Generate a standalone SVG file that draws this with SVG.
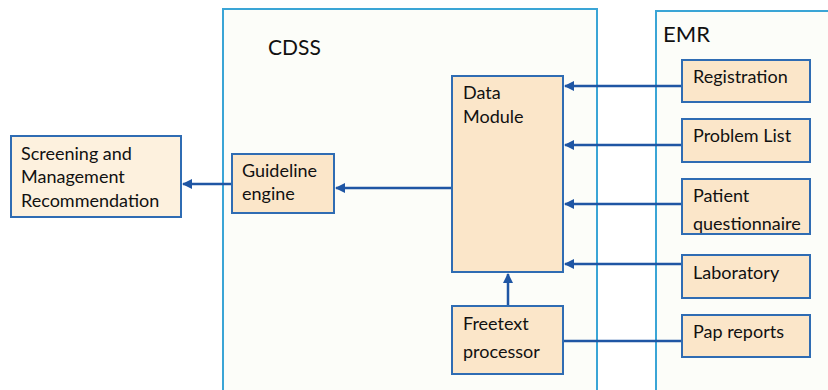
<svg xmlns="http://www.w3.org/2000/svg" width="828" height="390" viewBox="0 0 828 390">
  <defs>
    <style>
      .container { fill: #fcfdf9; stroke: #3aa5d6; stroke-width: 2; }
      .node { fill: #fbe6c9; stroke: #2f6cb3; stroke-width: 2; }
      .node-light { fill: #fdf1de; stroke: #2f6cb3; stroke-width: 2; }
      .label { font-family: Lato, "Open Sans", sans-serif; font-size: 18px; fill: #111; }
      .title { font-family: Lato, "Open Sans", sans-serif; font-size: 21px; fill: #111; }
      .link { stroke: #1f56a4; stroke-width: 2.5; fill: none; }
    </style>
    <marker id="arrow" viewBox="0 0 10 10" refX="9" refY="5" markerWidth="4" markerHeight="4" orient="auto" markerUnits="strokeWidth">
      <path d="M0,0 L10,5 L0,10 z" fill="#1f56a4"/>
    </marker>
  </defs>

  <rect width="828" height="390" fill="#ffffff"/>

  <!-- System containers -->
  <g id="cdss">
    <rect class="container" x="223" y="9" width="374" height="400"/>
    <text class="title" x="268" y="55">CDSS</text>
  </g>
  <g id="emr">
    <rect class="container" x="656" y="11" width="200" height="400"/>
    <text class="title" x="663" y="42" style="font-size:22px">EMR</text>
  </g>

  <!-- Connectors -->
  <g id="connectors">
    <line class="link" x1="682" y1="86" x2="565" y2="86" marker-end="url(#arrow)"/>
    <line class="link" x1="682" y1="145" x2="565" y2="145" marker-end="url(#arrow)"/>
    <line class="link" x1="682" y1="204" x2="565" y2="204" marker-end="url(#arrow)"/>
    <line class="link" x1="682" y1="264" x2="565" y2="264" marker-end="url(#arrow)"/>
    <line class="link" x1="682" y1="341" x2="563" y2="341"/>
    <line class="link" x1="508" y1="306" x2="508" y2="274" marker-end="url(#arrow)"/>
    <line class="link" x1="452" y1="188" x2="336" y2="188" marker-end="url(#arrow)"/>
    <line class="link" x1="232" y1="184" x2="183" y2="184" marker-end="url(#arrow)"/>
  </g>

  <!-- Nodes -->
  <g id="screening">
    <rect class="node-light" x="11" y="136" width="170" height="81"/>
    <text class="label" x="21" y="160">Screening and</text>
    <text class="label" x="21" y="183">Management</text>
    <text class="label" x="21" y="207">Recommendation</text>
  </g>
  <g id="guideline-engine">
    <rect class="node" x="232" y="154" width="102" height="59"/>
    <text class="label" x="242" y="177">Guideline</text>
    <text class="label" x="242" y="200">engine</text>
  </g>
  <g id="data-module">
    <rect class="node" x="452" y="76" width="111" height="196"/>
    <text class="label" x="463" y="99">Data</text>
    <text class="label" x="463" y="123">Module</text>
  </g>
  <g id="freetext-processor">
    <rect class="node" x="452" y="306" width="111" height="68"/>
    <text class="label" x="463" y="330">Freetext</text>
    <text class="label" x="463" y="358">processor</text>
  </g>
  <g id="registration">
    <rect class="node" x="682" y="60" width="128" height="42"/>
    <text class="label" x="693" y="83">Registration</text>
  </g>
  <g id="problem-list">
    <rect class="node" x="682" y="119" width="128" height="43"/>
    <text class="label" x="693" y="142">Problem List</text>
  </g>
  <g id="patient-questionnaire">
    <rect class="node" x="682" y="179" width="128" height="55"/>
    <text class="label" x="693" y="202">Patient</text>
    <text class="label" x="693" y="230">questionnaire</text>
  </g>
  <g id="laboratory">
    <rect class="node" x="682" y="255" width="128" height="43"/>
    <text class="label" x="693" y="279">Laboratory</text>
  </g>
  <g id="pap-reports">
    <rect class="node" x="682" y="315" width="128" height="42"/>
    <text class="label" x="693" y="338">Pap reports</text>
  </g>
</svg>
